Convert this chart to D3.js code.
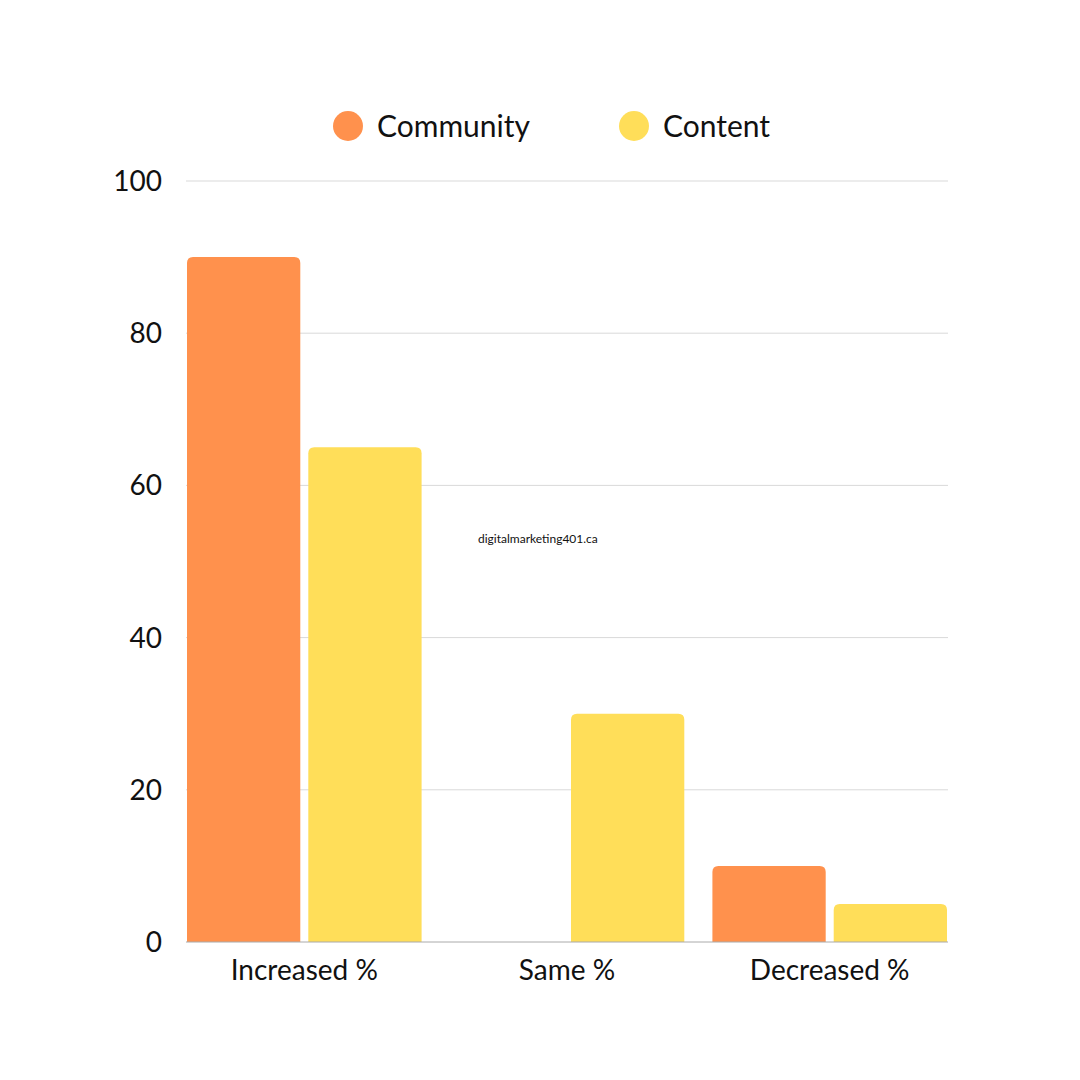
<!DOCTYPE html>
<html><head><meta charset="utf-8">
<script src="https://cdn.jsdelivr.net/npm/d3@7"></script>
<style>body{margin:0;background:#fff}</style></head>
<body><svg id="c" width="1080" height="1080"></svg>
<script>
const categories = ["Increased %", "Same %", "Decreased %"];
const seriesNames = ["Community", "Content"];
const community = [90, 0, 10];
const content = [65, 30, 5];
const yTicks = [0, 20, 40, 60, 80, 100];
const colors = ["#FF914D", "#FFDE59"];

const svg = d3.select("#c");
const font = "Lato, 'Noto Sans', sans-serif";
const y = d3.scaleLinear().domain([0, 100]).range([942, 181]);
const x0 = d3.scaleBand().domain(categories).range([187, 947]).paddingInner(0.107).paddingOuter(0);
const x1 = d3.scaleBand().domain(seriesNames).range([0, x0.bandwidth()]).paddingInner(0.066);

svg.append("g").selectAll("line").data(yTicks.slice(1)).join("line")
  .attr("x1", 186).attr("x2", 948).attr("y1", d => y(d)).attr("y2", d => y(d))
  .attr("stroke", "#d9d9d9").attr("stroke-width", 1);
svg.append("g").selectAll("text").data(yTicks).join("text")
  .attr("x", 162).attr("y", d => y(d)).attr("dy", "0.36em").attr("text-anchor", "end")
  .attr("font-family", font).attr("font-size", 28).attr("fill", "#111").text(d => d);

const data = [community, content];
const r = 6;
function barPath(x, w, yt, yb) {
  const h = yb - yt; if (h <= 0) return "";
  const rr = Math.min(r, h);
  return `M${x},${yb}V${yt+rr}Q${x},${yt} ${x+rr},${yt}H${x+w-rr}Q${x+w},${yt} ${x+w},${yt+rr}V${yb}Z`;
}
seriesNames.forEach((s, si) => {
  svg.append("g").selectAll("path").data(categories).join("path")
    .attr("d", (c, i) => barPath(x0(c) + x1(s), x1.bandwidth(), y(data[si][i]), y(0)))
    .attr("fill", colors[si]);
});
svg.append("line").attr("x1", 186).attr("x2", 948).attr("y1", y(0)).attr("y2", y(0))
  .attr("stroke", "#aaa").attr("stroke-width", 1);

svg.append("g").selectAll("text").data(categories).join("text")
  .attr("x", c => x0(c) + x0.bandwidth() / 2).attr("y", 980).attr("text-anchor", "middle")
  .attr("font-family", font).attr("font-size", 28).attr("fill", "#111").text(c => c);

const legX = [348, 634];
seriesNames.forEach((s, i) => {
  svg.append("circle").attr("cx", legX[i]).attr("cy", 126).attr("r", 15).attr("fill", colors[i]);
  svg.append("text").attr("x", legX[i] + 29).attr("y", 126).attr("dy", "0.36em")
    .attr("font-family", font).attr("font-size", 30).attr("fill", "#111").text(s);
});
svg.append("text").attr("x", 478).attr("y", 543).attr("font-family", font)
  .attr("font-size", 12).attr("fill", "#111").text("digitalmarketing401.ca");
</script></body></html>
